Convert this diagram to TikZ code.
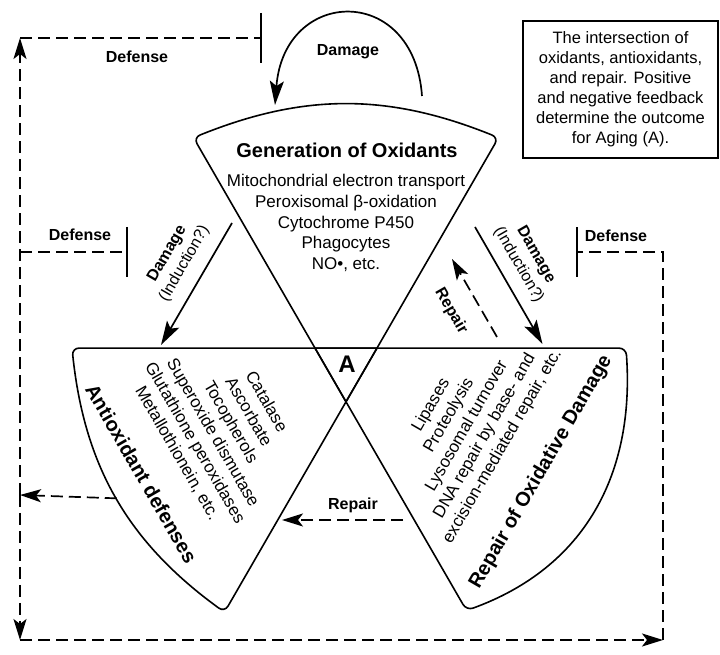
\documentclass[tikz,border=0pt]{standalone}
\usepackage{fontspec}
\setmainfont{Liberation Sans}
\usetikzlibrary{arrows.meta, calc, positioning}

\begin{document}
\begin{tikzpicture}[
        x=1pt, y=1pt,
        sectorShape/.style={draw=black, line width=1.6pt, rounded corners=7pt},
        headText/.style={font=\fontsize{20}{24}\selectfont\bfseries, align=center, inner sep=0pt},
        listText/.style={font=\fontsize{17}{20.6}\selectfont, align=center, inner sep=0pt},
        labelText/.style={font=\fontsize{16}{20}\selectfont\bfseries, align=center, inner sep=0pt},
        solidArrow/.style={line width=1.7pt, -{Stealth[length=24pt, width=14pt, inset=5pt]}},
        dashArrow/.style={line width=1.7pt, dash pattern=on 12pt off 6pt, -{Stealth[length=21pt, width=13pt, inset=5pt]}},
        blockLine/.style={line width=1.7pt, dash pattern=on 12pt off 6pt, -{Bar[width=50pt, line width=2.4pt]}},
        noteBox/.style={draw, line width=2.4pt, minimum width=195pt, minimum height=137pt, align=center, inner sep=2pt, font=\fontsize{16.5}{20}\selectfont}
    ]
    \useasboundingbox (0,0) rectangle (720,655);

    % apexes of the three wedges (corners of the small triangle A)
    \coordinate (apexTop) at (346,253.2);
    \coordinate (apexLeft) at (377,306.9);
    \coordinate (apexRight) at (315,306.9);

    % the three wedges
    \draw[sectorShape] (apexTop) -- ($(apexTop)+(60:305)$) coordinate (genR)
        to[bend right=22] ($(apexTop)+(120:305)$) coordinate (genL) -- (apexTop);
    \draw[sectorShape] (apexLeft) -- ($(apexLeft)+(180:305)$) coordinate (antiT)
        to[bend right=24] coordinate[pos=0.5] (antiArc) ($(apexLeft)+(240:305)$) coordinate (antiB) -- (apexLeft);
    \draw[sectorShape] (apexRight) -- ($(apexRight)+(300:303)$) coordinate (repB)
        to[out=20, in=-86, looseness=1.05] ($(apexRight)+(0:311)$) coordinate (repT) -- (apexRight);

    % wedge texts
    \node[headText] (genTitle) at (347,505) {Generation of Oxidants};
    \node[listText] (genList) at (346,432) {Mitochondrial electron transport\\Peroxisomal β-oxidation\\Cytochrome P450\\Phagocytes\\NO•, etc.};
    \node[headText, rotate=-60] (antiTitle) at (141.5,181.5) {Antioxidant defenses};
    \node[listText, rotate=-60] (antiList) at (221.7,227.5) {Catalase\\Ascorbate\\Tocopherols\\Superoxide dismutase\\Glutathione peroxidases\\Metallothionein, etc.};
    \node[headText, rotate=60] (repTitle) at (541,183) {Repair of Oxidative Damage};
    \node[listText, rotate=60] (repList) at (467,229) {Lipases\\Proteolysis\\Lysosomal turnover\\DNA repair by base- and\\excision-mediated repair, etc.};
    \node[font=\fontsize{24}{28}\selectfont\bfseries, inner sep=0pt] (agingA) at (347,291) {A};

    % note box
    \node[noteBox] (noteBox) at (620.5,565.5) {The intersection of\\oxidants, antioxidants,\\and repair. Positive\\and negative feedback\\determine the outcome\\for Aging (A).};

    % damage and repair arrows
    \coordinate (dmgTopStart) at (422,559);
    \coordinate (dmgTopEnd) at (275,550);
    \draw[solidArrow] (dmgTopStart) .. controls (414,672) and (284,668) .. (dmgTopEnd);
    \coordinate (dmgLeftStart) at (232,432);
    \coordinate (dmgLeftEnd) at (161,310);
    \draw[solidArrow] (dmgLeftStart) -- (dmgLeftEnd);
    \coordinate (dmgRightStart) at (475,428);
    \coordinate (dmgRightEnd) at (542.5,311);
    \draw[solidArrow] (dmgRightStart) -- (dmgRightEnd);
    \coordinate (repUpStart) at (497,318);
    \coordinate (repUpEnd) at (452,396);
    \draw[dashArrow] (repUpStart) -- (repUpEnd);
    \coordinate (repMidStart) at (403,135);
    \coordinate (repMidEnd) at (282,135);
    \draw[dashArrow] (repMidStart) -- (repMidEnd);

    % defense loop
    \coordinate (leftJoin) at (20,160);
    \coordinate (topCorner) at (20,617);
    \coordinate (topBar) at (262,617);
    \coordinate (midLeft) at (20,403);
    \coordinate (midLeftBar) at (128,403);
    \coordinate (botLeft) at (20,15);
    \coordinate (botRight) at (663,15);
    \coordinate (midRight) at (663,403);
    \coordinate (midRightBar) at (576,403);
    \draw[dashArrow] (antiArc) -- (leftJoin);
    \draw[dashArrow] (leftJoin) -- (topCorner);
    \draw[blockLine] (topCorner) -- (topBar);
    \draw[blockLine] (midLeft) -- (midLeftBar);
    \draw[dashArrow] (leftJoin) -- (botLeft);
    \draw[dashArrow] (botLeft) -- (botRight);
    \draw[blockLine] (botRight) -- (midRight) -- (midRightBar);

    % labels
    \node[labelText] (dmgTopLabel) at (348,603) {Damage};
    \node[labelText] (defTopLabel) at (137,598) {Defense};
    \node[labelText] (defLeftLabel) at (80,420) {Defense};
    \node[labelText] (defRightLabel) at (616,419) {Defense};
    \node[labelText, rotate=60] (dmgLeftLabel) at (176,396) {Damage\\\mdseries(Induction?)};
    \node[labelText, rotate=-60] (dmgRightLabel) at (527,395) {Damage\\\mdseries(Induction?)};
    \node[labelText, rotate=-60] (repUpLabel) at (451,344) {Repair};
    \node[labelText] (repMidLabel) at (353,150) {Repair};
\end{tikzpicture}
\end{document}
